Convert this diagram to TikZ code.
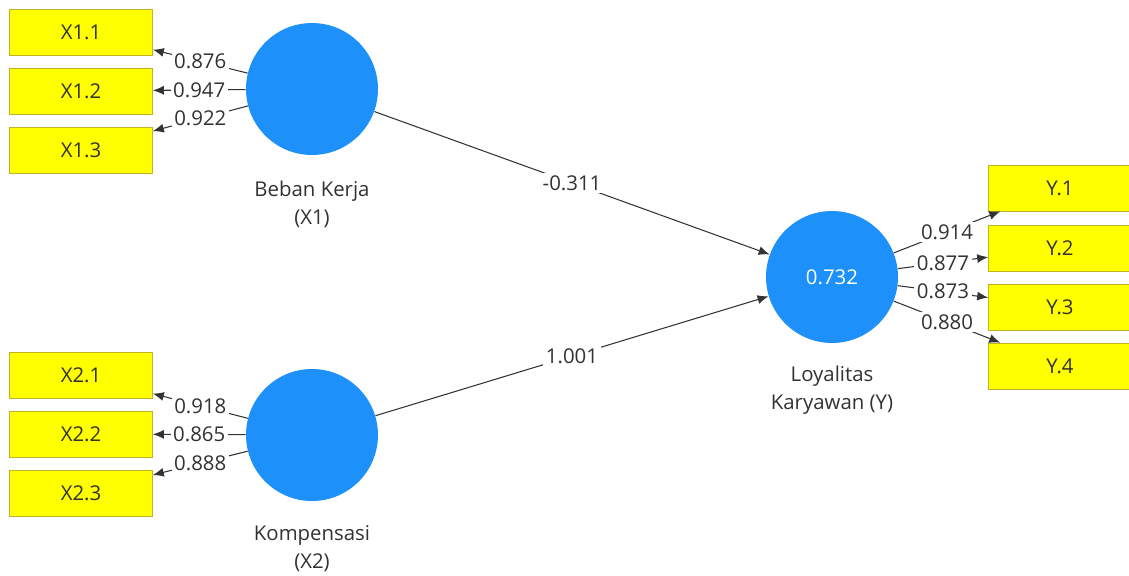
\documentclass[tikz,border=0pt]{standalone}
\usepackage{fontspec}
\setmainfont{Open Sans}
\usepackage{xcolor}
\usetikzlibrary{shapes,arrows.meta,positioning,calc}

\definecolor{lvblue}{RGB}{30,144,250}
\definecolor{indyellow}{RGB}{255,255,0}
\definecolor{indborder}{RGB}{190,180,40}
\definecolor{txtgray}{RGB}{50,50,50}

\begin{document}
\begin{tikzpicture}[
    x=0.02cm, y=-0.02cm,
    font=\fontsize{11.6}{16}\selectfont, text=txtgray,
    latent/.style={circle, fill=lvblue, minimum size=2.64cm, inner sep=0pt, text=white},
    indicator/.style={rectangle, draw=indborder, fill=indyellow, minimum width=2.86cm, minimum height=0.92cm},
    caption/.style={align=center, text=txtgray},
    link/.style={draw=black!80, line width=0.6pt, -{Latex[length=2.2mm,width=1.8mm]}},
    coef/.style={fill=white, inner sep=1.5pt, midway, text=txtgray}
]
    \useasboundingbox (0,0) rectangle (1129,575);

    % Latent variables
    \node[latent] (x1) at (312,89) {};
    \node[latent] (x2) at (312,435) {};
    \node[latent] (y) at (832,277) {0.732};

    \node[caption] (x1lab) at (312,204) {Beban Kerja\\(X1)};
    \node[caption] (x2lab) at (312,549) {Kompensasi\\(X2)};
    \node[caption] (ylab) at (832,390) {Loyalitas\\Karyawan (Y)};

    % Indicators
    \node[indicator] (x11) at (81,32) {X1.1};
    \node[indicator] (x12) at (81,91) {X1.2};
    \node[indicator] (x13) at (81,150) {X1.3};

    \node[indicator] (x21) at (81,375) {X2.1};
    \node[indicator] (x22) at (81,434) {X2.2};
    \node[indicator] (x23) at (81,493) {X2.3};

    \node[indicator] (y1) at (1060,188) {Y.1};
    \node[indicator] (y2) at (1060,248) {Y.2};
    \node[indicator] (y3) at (1060,307) {Y.3};
    \node[indicator] (y4) at (1060,366) {Y.4};

    % Outer loadings
    \draw[link] (x1) -- node[coef] {0.876} (x11);
    \draw[link] (x1) -- node[coef] {0.947} (x12);
    \draw[link] (x1) -- node[coef] {0.922} (x13);

    \draw[link] (x2) -- node[coef] {0.918} (x21);
    \draw[link] (x2) -- node[coef] {0.865} (x22);
    \draw[link] (x2) -- node[coef] {0.888} (x23);

    \draw[link] (y) -- node[coef] {0.914} (y1);
    \draw[link] (y) -- node[coef] {0.877} (y2);
    \draw[link] (y) -- node[coef] {0.873} (y3);
    \draw[link] (y) -- node[coef] {0.880} (y4);

    % Path coefficients
    \draw[link] (x1) -- node[coef] {-0.311} (y);
    \draw[link] (x2) -- node[coef] {1.001} (y);
\end{tikzpicture}
\end{document}
